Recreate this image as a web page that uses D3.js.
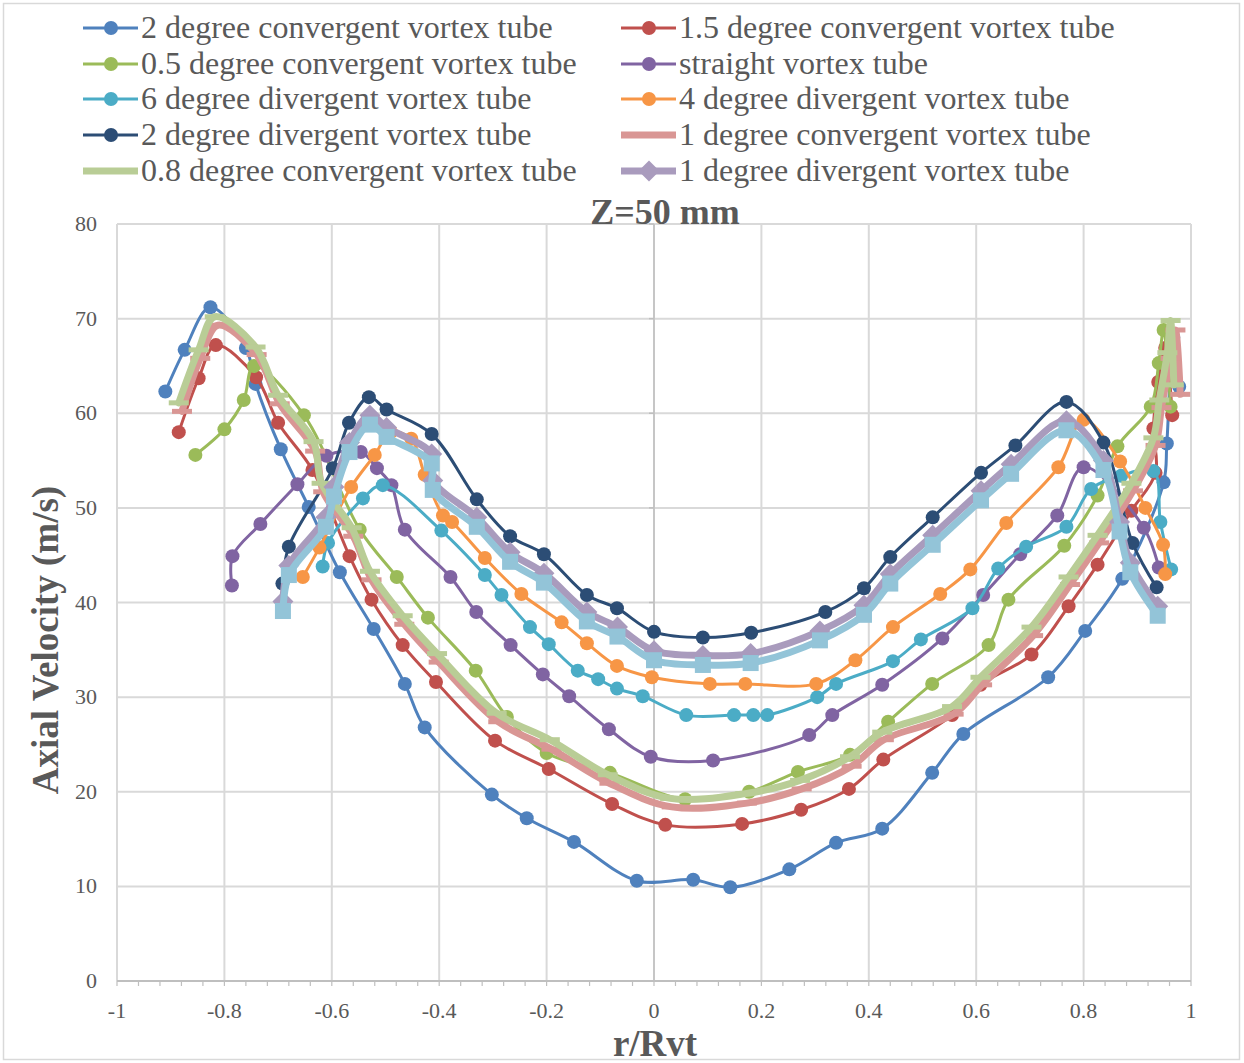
<!DOCTYPE html>
<html>
<head>
<meta charset="utf-8">
<script src="https://cdn.jsdelivr.net/npm/d3@7"></script>
<style>
  body { margin: 0; background: #fff; }
  text { font-family: "Liberation Serif", "Times New Roman", serif; fill: #595959; }
</style>
</head>
<body>
<div id="chart"></div>
<script>
const width = 1244, height = 1063;

// series data (r/Rvt, axial velocity m/s)
const conv2X = [-0.910,-0.874,-0.826,-0.760,-0.742,-0.695,-0.643,-0.585,-0.522,-0.464,-0.427,-0.302,-0.237,-0.149,-0.032,0.073,0.142,0.252,0.339,0.425,0.518,0.576,0.734,0.803,0.872,0.949,0.955,0.967,0.978];
const conv2Y = [62.3,66.7,71.2,66.9,63.1,56.2,50.1,43.2,37.2,31.4,26.8,19.7,17.2,14.7,10.6,10.7,9.9,11.8,14.6,16.1,22.0,26.1,32.1,37.0,42.5,52.7,56.8,68.0,62.8];

const conv15X = [-0.885,-0.848,-0.816,-0.741,-0.700,-0.636,-0.567,-0.526,-0.468,-0.406,-0.296,-0.196,-0.078,0.021,0.164,0.274,0.363,0.427,0.555,0.608,0.703,0.772,0.826,0.889,0.934,0.930,0.939,0.952,0.965];
const conv15Y = [58.0,63.7,67.2,63.8,59.0,54.0,44.9,40.3,35.5,31.6,25.4,22.4,18.7,16.5,16.6,18.1,20.3,23.4,28.1,31.3,34.5,39.6,44.0,49.7,53.7,58.4,63.3,66.9,59.8];

const conv05X = [-0.854,-0.800,-0.764,-0.745,-0.652,-0.548,-0.479,-0.421,-0.332,-0.274,-0.200,-0.082,0.058,0.177,0.268,0.365,0.436,0.518,0.623,0.660,0.764,0.826,0.863,0.925,0.940,0.949,0.962];
const conv05Y = [55.6,58.3,61.4,65.0,59.8,47.7,42.7,38.4,32.8,27.9,24.1,22.0,19.2,20.0,22.1,23.9,27.4,31.4,35.5,40.3,46.0,51.3,56.5,60.7,65.3,68.8,60.7];

const straightX = [-0.786,-0.785,-0.733,-0.664,-0.610,-0.546,-0.516,-0.489,-0.464,-0.379,-0.331,-0.267,-0.207,-0.158,-0.084,-0.006,0.110,0.289,0.332,0.425,0.537,0.613,0.682,0.751,0.800,0.912,0.940];
const straightY = [41.8,44.9,48.3,52.5,55.5,55.9,54.2,52.4,47.7,42.7,39.0,35.5,32.4,30.1,26.6,23.7,23.3,26.0,28.1,31.3,36.2,40.8,45.1,49.2,54.3,47.9,43.7];

const div6X = [-0.617,-0.607,-0.542,-0.505,-0.396,-0.315,-0.284,-0.231,-0.196,-0.142,-0.104,-0.069,-0.021,0.060,0.149,0.185,0.211,0.304,0.339,0.445,0.497,0.593,0.641,0.693,0.768,0.814,0.870,0.930,0.943,0.963];
const div6Y = [43.8,46.3,51.0,52.4,47.6,42.9,40.8,37.4,35.6,32.8,31.9,30.9,30.1,28.1,28.1,28.1,28.1,30.0,31.4,33.8,36.1,39.4,43.6,45.9,48.0,52.0,53.4,53.9,48.5,43.5];

const div4X = [-0.654,-0.623,-0.564,-0.520,-0.490,-0.452,-0.427,-0.393,-0.376,-0.315,-0.247,-0.172,-0.125,-0.069,-0.004,0.104,0.170,0.302,0.375,0.445,0.533,0.589,0.656,0.753,0.800,0.868,0.915,0.948,0.952];
const div4Y = [42.7,45.8,52.2,55.6,58.0,57.3,53.5,49.2,48.5,44.7,40.9,37.9,35.7,33.3,32.1,31.4,31.4,31.4,33.9,37.4,40.9,43.5,48.4,54.3,59.3,54.9,50.0,46.1,43.0];

const div2X = [-0.692,-0.680,-0.598,-0.568,-0.531,-0.498,-0.414,-0.330,-0.268,-0.205,-0.125,-0.069,0.000,0.091,0.181,0.319,0.391,0.440,0.519,0.609,0.673,0.768,0.837,0.891,0.936];
const div2Y = [42.0,45.9,54.2,59.0,61.7,60.4,57.8,50.9,47.0,45.1,40.8,39.4,36.9,36.3,36.8,39.0,41.5,44.8,49.0,53.7,56.6,61.2,56.9,46.3,41.6];

const conv1X = [-0.879,-0.845,-0.812,-0.740,-0.697,-0.631,-0.616,-0.560,-0.526,-0.465,-0.401,-0.290,-0.191,-0.083,0.033,0.173,0.275,0.368,0.428,0.558,0.611,0.706,0.775,0.829,0.892,0.934,0.945,0.962,0.971,0.980];
const conv1Y = [60.2,65.8,69.3,66.2,61.0,56.0,51.7,47.0,42.4,37.7,33.7,27.4,24.5,20.9,18.4,18.8,20.3,22.7,25.5,28.2,31.3,36.5,41.9,46.3,51.8,56.6,60.6,65.8,68.8,62.0];

const conv08X = [-0.885,-0.848,-0.818,-0.742,-0.700,-0.634,-0.619,-0.563,-0.529,-0.468,-0.404,-0.293,-0.194,-0.086,0.030,0.170,0.272,0.365,0.425,0.555,0.608,0.703,0.772,0.826,0.889,0.930,0.941,0.956,0.962,0.968];
const conv08Y = [61.1,66.7,70.2,67.0,61.9,57.0,52.6,47.9,43.3,38.6,34.6,28.3,25.5,21.8,19.3,19.8,21.2,23.7,26.3,29.0,32.1,37.4,42.7,47.1,52.6,57.4,61.4,66.4,69.8,63.0];

const div1X = [-0.691,-0.680,-0.611,-0.596,-0.567,-0.529,-0.498,-0.414,-0.412,-0.330,-0.268,-0.205,-0.125,-0.068,0.000,0.091,0.180,0.309,0.391,0.440,0.519,0.609,0.665,0.768,0.837,0.867,0.887,0.938];
const div1Y = [40.1,43.9,49.0,52.2,56.9,59.8,58.5,55.7,52.9,49.0,45.3,43.1,39.0,37.4,34.9,34.4,34.6,37.0,39.7,43.0,47.1,51.8,54.6,59.2,55.0,48.5,44.2,39.6];

// extra series with square markers (not listed in the legend)
const sqX = [-0.691,-0.680,-0.611,-0.596,-0.567,-0.529,-0.498,-0.414,-0.412,-0.330,-0.268,-0.205,-0.125,-0.068,0.000,0.091,0.180,0.309,0.391,0.440,0.519,0.609,0.665,0.768,0.837,0.867,0.887,0.938];
const sqY = [39.1,42.9,48.0,51.2,55.9,58.8,57.5,54.7,51.9,48.0,44.3,42.1,38.0,36.4,33.9,33.4,33.6,36.0,38.7,42.0,46.1,50.8,53.6,58.2,54.0,47.5,43.2,38.6];

const xTicks = [-1,-0.8,-0.6,-0.4,-0.2,0,0.2,0.4,0.6,0.8,1];
const yTicks = [0,10,20,30,40,50,60,70,80];

const series = [
  {name: "2 degree convergent vortex tube",   x: conv2X,    y: conv2Y,    color: "#4F81BD", marker: "circle", lw: 3},
  {name: "1.5 degree convergent vortex tube", x: conv15X,   y: conv15Y,   color: "#C0504D", marker: "circle", lw: 3},
  {name: "0.5 degree convergent vortex tube", x: conv05X,   y: conv05Y,   color: "#9BBB59", marker: "circle", lw: 3},
  {name: "straight vortex tube",              x: straightX, y: straightY, color: "#8064A2", marker: "circle", lw: 3},
  {name: "6 degree divergent vortex tube",    x: div6X,     y: div6Y,     color: "#4BACC6", marker: "circle", lw: 3},
  {name: "4 degree divergent vortex tube",    x: div4X,     y: div4Y,     color: "#F79646", marker: "circle", lw: 3},
  {name: "2 degree divergent vortex tube",    x: div2X,     y: div2Y,     color: "#2C4D75", marker: "circle", lw: 3},
  {name: "1 degree convergent vortex tube",   x: conv1X,    y: conv1Y,    color: "#D99694", marker: "dash",   lw: 7},
  {name: "0.8 degree convergent vortex tube", x: conv08X,   y: conv08Y,   color: "#B9CD96", marker: "dash",   lw: 7},
  {name: "1 degree divergent vortex tube",    x: div1X,     y: div1Y,     color: "#A99BBD", marker: "diamond", lw: 7},
  {name: null,                                x: sqX,       y: sqY,       color: "#93C4D8", marker: "square", lw: 7}
];

const svg = d3.select("#chart").append("svg")
  .attr("width", width)
  .attr("height", height);

svg.append("rect")
  .attr("x", 0).attr("y", 0).attr("width", width).attr("height", height)
  .attr("fill", "#fff");

// outer chart border
svg.append("rect")
  .attr("x", 3.5).attr("y", 3.5).attr("width", 1236).attr("height", 1056)
  .attr("fill", "none").attr("stroke", "#D9D9D9").attr("stroke-width", 1.5);

const x = d3.scaleLinear().domain([-1, 1]).range([117, 1191]);
const y = d3.scaleLinear().domain([0, 80]).range([981, 224]);

// gridlines
svg.append("g").selectAll("line")
  .data(xTicks)
  .enter().append("line")
  .attr("x1", d => x(d)).attr("x2", d => x(d))
  .attr("y1", y(80)).attr("y2", y(0))
  .attr("stroke", "#D9D9D9").attr("stroke-width", 2);

svg.append("g").selectAll("line")
  .data(yTicks.filter(d => d > 0))
  .enter().append("line")
  .attr("x1", x(-1)).attr("x2", x(1))
  .attr("y1", d => y(d)).attr("y2", d => y(d))
  .attr("stroke", "#D9D9D9").attr("stroke-width", 2);

// vertical axis crosses at x = 0
svg.append("line")
  .attr("x1", x(0)).attr("x2", x(0)).attr("y1", y(80)).attr("y2", y(0))
  .attr("stroke", "#BFBFBF").attr("stroke-width", 1.5);
svg.append("g").selectAll("line")
  .data(yTicks)
  .enter().append("line")
  .attr("x1", x(0) - 5).attr("x2", x(0))
  .attr("y1", d => y(d)).attr("y2", d => y(d))
  .attr("stroke", "#BFBFBF").attr("stroke-width", 1.5);

// horizontal axis with minor ticks
svg.append("line")
  .attr("x1", x(-1)).attr("x2", x(1)).attr("y1", y(0)).attr("y2", y(0))
  .attr("stroke", "#BFBFBF").attr("stroke-width", 2);
svg.append("g").selectAll("line")
  .data(d3.range(0, 51).map(i => -1 + i * 0.04))
  .enter().append("line")
  .attr("x1", d => x(d)).attr("x2", d => x(d))
  .attr("y1", y(0)).attr("y2", y(0) + 5)
  .attr("stroke", "#BFBFBF").attr("stroke-width", 1.2);

// tick labels (plain hyphen for negatives, as in the original)
svg.append("g").selectAll("text")
  .data(xTicks)
  .enter().append("text")
  .attr("x", d => x(d)).attr("y", 1018)
  .attr("text-anchor", "middle")
  .style("font-size", "22px")
  .text(d => String(d));

svg.append("g").selectAll("text")
  .data(yTicks)
  .enter().append("text")
  .attr("x", 97).attr("y", d => y(d) + 7)
  .attr("text-anchor", "end")
  .style("font-size", "22px")
  .text(d => d);

// titles
svg.append("text")
  .attr("x", 665).attr("y", 224)
  .attr("text-anchor", "middle")
  .style("font-size", "36px").style("font-weight", "bold")
  .text("Z=50 mm");

svg.append("text")
  .attr("x", 655).attr("y", 1056)
  .attr("text-anchor", "middle")
  .style("font-size", "37px").style("font-weight", "bold")
  .text("r/Rvt");

svg.append("text")
  .attr("transform", "translate(58,640) rotate(-90)")
  .attr("text-anchor", "middle")
  .style("font-size", "37px").style("font-weight", "bold")
  .text("Axial Velocity (m/s)");

// markers
function drawMarker(g, type, cx, cy, color) {
  if (type === "circle") {
    g.append("circle").attr("cx", cx).attr("cy", cy).attr("r", 7).attr("fill", color);
  } else if (type === "square") {
    g.append("rect").attr("x", cx - 8).attr("y", cy - 8).attr("width", 16).attr("height", 16).attr("fill", color);
  } else if (type === "diamond") {
    const s = 10.5;
    g.append("path").attr("d", `M${cx},${cy - s}L${cx + s},${cy}L${cx},${cy + s}L${cx - s},${cy}Z`).attr("fill", color);
  } else if (type === "dash") {
    g.append("rect").attr("x", cx - 10).attr("y", cy - 2.5).attr("width", 20).attr("height", 5).attr("fill", color);
  }
}

const line = d3.line()
  .x(d => x(d[0]))
  .y(d => y(d[1]))
  .curve(d3.curveCatmullRom.alpha(0.5));

series.forEach(s => {
  const pts = s.x.map((v, i) => [v, s.y[i]]);
  const g = svg.append("g");
  g.append("path")
    .attr("d", line(pts))
    .attr("fill", "none")
    .attr("stroke", s.color)
    .attr("stroke-width", s.lw)
    .attr("stroke-linejoin", "round")
    .attr("stroke-linecap", "round");
  pts.forEach(p => drawMarker(g, s.marker, x(p[0]), y(p[1]), s.color));
});

// legend, two columns
const legendCols = [83, 621];
const legendRows = [28, 64, 99, 135, 171];
series.filter(s => s.name).forEach((s, i) => {
  const lx = legendCols[i % 2], ly = legendRows[Math.floor(i / 2)];
  const g = svg.append("g");
  g.append("line")
    .attr("x1", lx).attr("x2", lx + 55)
    .attr("y1", ly).attr("y2", ly)
    .attr("stroke", s.color).attr("stroke-width", s.lw);
  drawMarker(g, s.marker, lx + 28, ly, s.color);
  g.append("text")
    .attr("x", lx + 58).attr("y", ly + 10)
    .style("font-size", "32px")
    .text(s.name);
});
</script>
</body>
</html>
